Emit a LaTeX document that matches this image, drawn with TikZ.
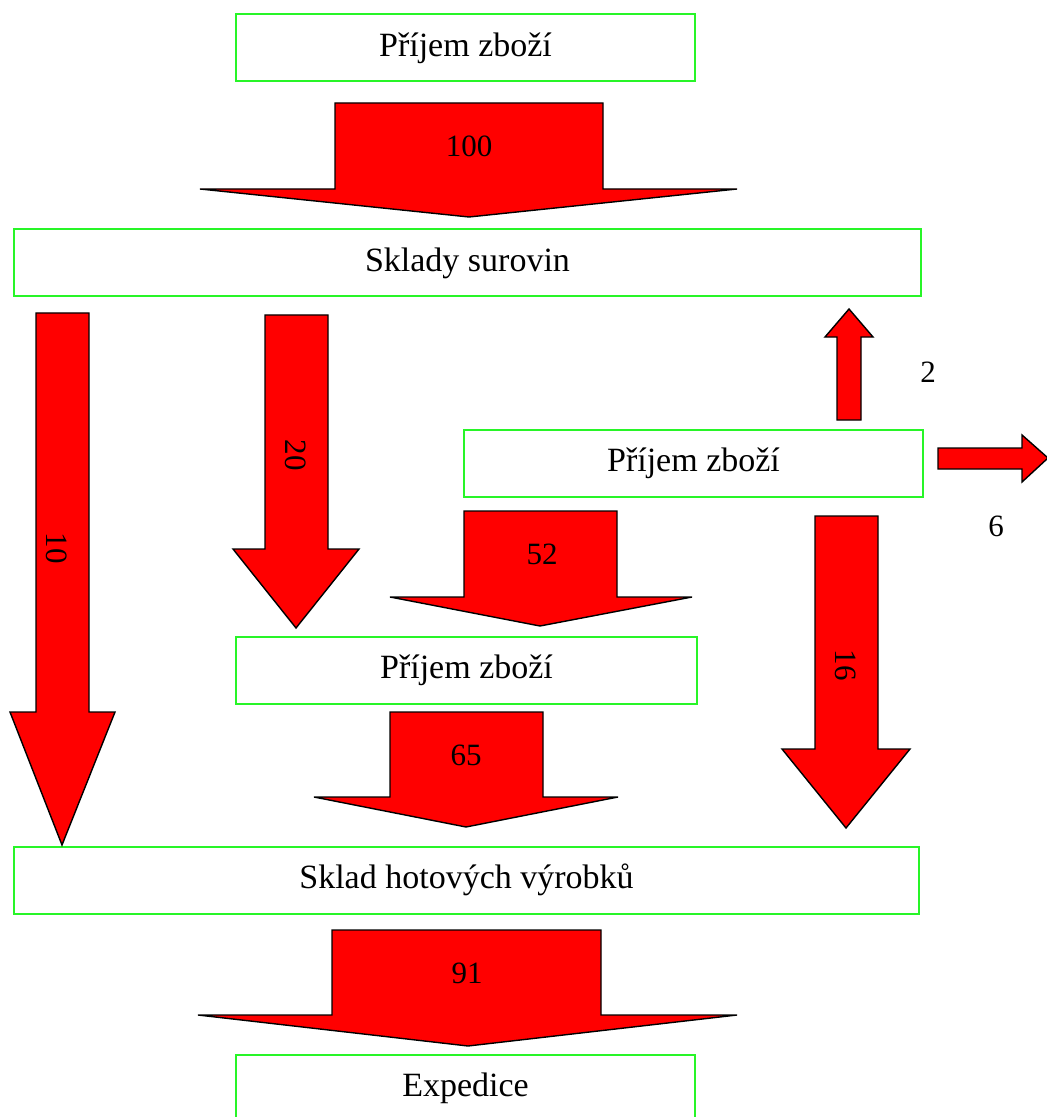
\documentclass[tikz,border=0pt]{standalone}
\usepackage{fontspec}
\setmainfont{Liberation Serif}
\definecolor{boxgreen}{RGB}{40,245,40}
\definecolor{flowred}{RGB}{255,0,0}

\begin{document}
\begin{tikzpicture}[x=0.5pt,y=-0.5pt,
	box/.style={draw=boxgreen,line width=1pt,inner sep=0pt,minimum height=33.5pt,font=\fontsize{17}{20}\selectfont},
	flow/.style={draw=black,fill=flowred,line width=.7pt,line join=miter},
	num/.style={inner sep=0pt,font=\fontsize{15.5}{18}\selectfont}]
		\useasboundingbox(0,0)rectangle(1046,1117);
		% boxes
		\node[box,minimum width=229.5pt](prijem1)at(465.5,48){Příjem zboží};
		\node[box,minimum width=453.5pt](suroviny)at(467.5,263){Sklady surovin};
		\node[box,minimum width=229.5pt](prijem2)at(693.5,463.5){Příjem zboží};
		\node[box,minimum width=230.5pt](prijem3)at(466.5,670){Příjem zboží};
		\node[box,minimum width=452.5pt](hotove)at(466.5,880){Sklad hotových výrobků};
		\node[box,minimum width=229.5pt](expedice)at(465.5,1088){Expedice};
		% flows
		\draw[flow](335,103)--(603,103)--(603,189)--(737,189)--(469,217)--(200,189)--(335,189)--cycle;
		\draw[flow](36,313)--(89,313)--(89,712)--(115,712)--(62,845)--(10,712)--(36,712)--cycle;
		\draw[flow](265,315)--(328,315)--(328,549)--(359,549)--(296,628)--(233,549)--(265,549)--cycle;
		\draw[flow](837,420)--(861,420)--(861,337)--(873,337)--(849,309)--(825,337)--(837,337)--cycle;
		\draw[flow](938,448)--(1022,448)--(1022,435)--(1048,458)--(1022,482)--(1022,469)--(938,469)--cycle;
		\draw[flow](464,511)--(617,511)--(617,597)--(692,597)--(540,626)--(390,597)--(464,597)--cycle;
		\draw[flow](390,712)--(543,712)--(543,797)--(618,797)--(466,827)--(314,797)--(390,797)--cycle;
		\draw[flow](815,516)--(878,516)--(878,749)--(910,749)--(846,828)--(782,749)--(815,749)--cycle;
		\draw[flow](332,930)--(601,930)--(601,1015)--(737,1015)--(468,1046)--(198,1015)--(332,1015)--cycle;
		% values
		\node[num](v100)at(469,146){100};
		\node[num,rotate=-90](v10)at(57,548){10};
		\node[num,rotate=-90](v20)at(296,455){20};
		\node[num](v2)at(928,372){2};
		\node[num](v6)at(996,526){6};
		\node[num](v52)at(542,554){52};
		\node[num,rotate=-90](v16)at(846,665){16};
		\node[num](v65)at(466,755){65};
		\node[num](v91)at(467,973){91};
	\end{tikzpicture}
\end{document}
